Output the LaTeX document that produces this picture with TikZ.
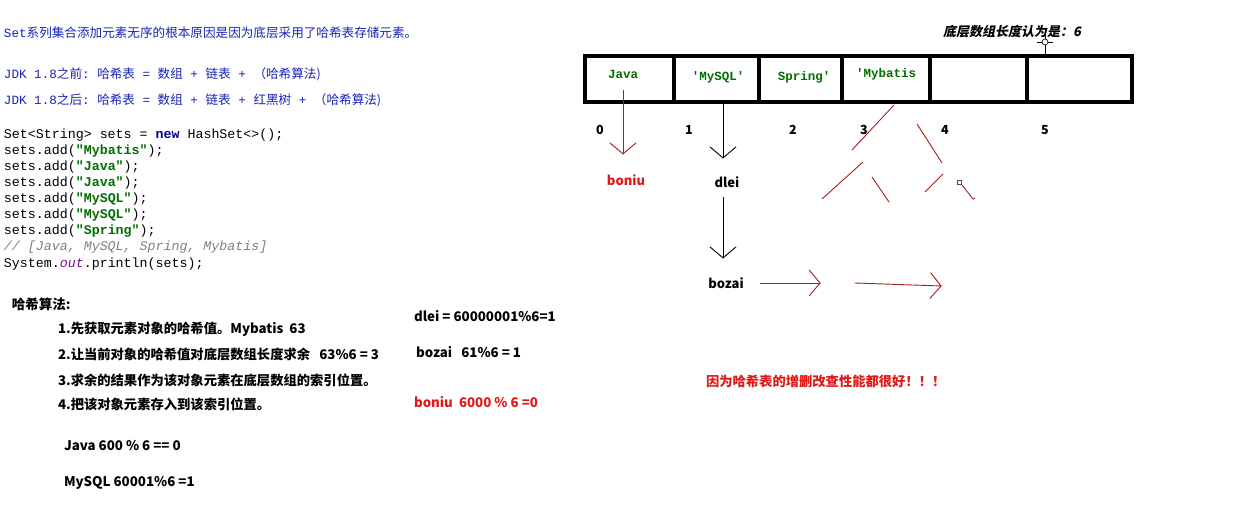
\documentclass[tikz,border=0pt]{standalone}
\usepackage{fontspec}
\setmonofont{Liberation Mono}
\newfontfamily\cjk{Noto Sans CJK SC}
\newfontfamily\cjkslant[FakeSlant=0.2]{Noto Sans CJK SC}
\usetikzlibrary{arrows.meta,positioning}

\definecolor{noteblue}{RGB}{25,35,185}
\definecolor{codegreen}{RGB}{0,110,0}
\definecolor{codenavy}{RGB}{0,0,140}
\definecolor{codepurple}{RGB}{110,20,130}
\definecolor{codegray}{RGB}{128,128,128}
\definecolor{penred}{RGB}{165,30,30}
\definecolor{hotred}{RGB}{225,25,25}

\newcommand\zh[1]{{\cjk #1}}
\newcommand\kw[1]{{\bfseries\color{codenavy}#1}}
\newcommand\str[1]{{\bfseries\color{codegreen}"#1"}}

\begin{document}
\begin{tikzpicture}[x=1pt,y=-1pt,
  every node/.style={inner sep=0pt,outer sep=0pt},
  blueline/.style={anchor=west,text=noteblue,font=\ttfamily\fontsize{12.6}{15}\selectfont},
  codeline/.style={anchor=west,font=\ttfamily\fontsize{13.3}{16}\selectfont},
  stepline/.style={anchor=west,font=\cjk\bfseries\fontsize{13.3}{16}\selectfont},
  cellword/.style={text=codegreen,font=\ttfamily\bfseries\fontsize{12.5}{14}\selectfont},
  idx/.style={font=\cjk\bfseries\fontsize{12.5}{14}\selectfont},
  chainword/.style={font=\cjk\bfseries\fontsize{13}{15}\selectfont},
  inkarrow/.style={line width=.9pt,-{Straight Barb[length=11pt,width=26pt]}},
  penarrow/.style={inkarrow,draw=penred},
  penline/.style={penred,line width=.9pt}]
\useasboundingbox[fill=white] (0,0) rectangle (1237,505);

% notes, top left
\node[blueline,font=\ttfamily\fontsize{12.6}{15}\selectfont] (intro) at (4,33) {Set\zh{系列集合添加元素无序的根本原因是因为底层采用了哈希表存储元素。}};
\node[blueline] (before) at (4,74) {JDK 1.8\zh{之前}: \zh{哈希表} = \zh{数组} + \zh{链表} + \zh{（哈希算法)}};
\node[blueline] (after) at (4,100) {JDK 1.8\zh{之后}: \zh{哈希表} = \zh{数组} + \zh{链表} + \zh{红黑树} + \zh{（哈希算法)}};

% code
\node[codeline] (c1) at (4,135) {Set<String> sets = \kw{new} HashSet<>();};
\node[codeline] (c2) at (4,151) {sets.add(\str{Mybatis});};
\node[codeline] (c3) at (4,167) {sets.add(\str{Java});};
\node[codeline] (c4) at (4,183) {sets.add(\str{Java});};
\node[codeline] (c5) at (4,199) {sets.add(\str{MySQL});};
\node[codeline] (c6) at (4,215) {sets.add(\str{MySQL});};
\node[codeline] (c7) at (4,231) {sets.add(\str{Spring});};
\node[codeline] (c8) at (4,247) {{\color{codegray}\itshape // [Java, MySQL, Spring, Mybatis]}};
\node[codeline] (c9) at (4,264) {System.{\color{codepurple}\itshape out}.println(sets);};

% hash steps
\node[anchor=west,font=\cjk\bfseries\fontsize{13.5}{16}\selectfont] (algo) at (12,304) {哈希算法:};
\node[stepline] (s1) at (58,329) {1.先获取元素对象的哈希值。Mybatis\ \ 63};
\node[stepline] (s2) at (58,354) {2.让当前对象的哈希值对底层数组长度求余\ \ \ 63\%6 = 3};
\node[stepline] (s3) at (58,380) {3.求余的结果作为该对象元素在底层数组的索引位置。};
\node[stepline] (s4) at (58,404) {4.把该对象元素存入到该索引位置。};
\node[stepline] (ex1) at (64,446) {Java 600 \% 6 == 0};
\node[stepline] (ex2) at (64,483) {MySQL 60001\%6 =1};
\node[stepline] (calc1) at (414,316) {dlei = 60000001\%6=1};
\node[stepline] (calc2) at (416,352) {bozai\ \ \ 61\%6 = 1};
\node[stepline,text=hotred] (calc3) at (414,402) {boniu\ \ 6000 \% 6 =0};
\node[stepline,text=hotred] (verdict) at (706,381) {因为哈希表的增删改查性能都很好！！！};

% array
\node[anchor=west,font=\cjkslant\bfseries\fontsize{13}{15}\selectfont] (lenlabel) at (943,32) {底层数组长度认为是：6};
\draw[line width=4pt] (585,56) rectangle (1132,102);
\foreach \x in {674,759,842,930,1027}
  \draw[line width=4pt] (\x,56) -- (\x,102);
\node[cellword] (java) at (623,74) {Java};
\node[cellword] (mysql) at (718,77) {'MySQL'};
\node[cellword] (spring) at (804,77) {Spring'};
\node[cellword] (mybatis) at (886,74) {'Mybatis};
\foreach \n/\x in {0/600,1/689,2/793,3/864,4/945,5/1045}
  \node[idx] (i\n) at (\x,130) {\n};

% cursor
\draw[line width=.6pt] (1045,30) -- (1045,56) (1037,42) -- (1053,42);
\draw[line width=.6pt,fill=white] (1045,42) circle (3);

% chains
\node[chainword,text=hotred] (boniu) at (626,180) {boniu};
\node[chainword] (dlei) at (727,182) {dlei};
\node[chainword] (bozai) at (726,283) {bozai};
\draw[penarrow] ([yshift=-12pt]java.south) -- ([yshift=20pt]java.south |- boniu.north);
\draw[inkarrow] ([xshift=5pt,yshift=-18pt]mysql.south) -- ([xshift=5pt,yshift=18pt]mysql.south |- dlei.north);
\draw[inkarrow] ([xshift=-4pt,yshift=-10pt]dlei.south) -- ([xshift=-4pt,yshift=19pt]dlei.south |- bozai.north);
\draw[penarrow] ([xshift=16pt]bozai.east) -- ([xshift=77pt]bozai.east);
\draw[penarrow] ([xshift=111pt]bozai.east) -- ([xshift=198pt,yshift=-3pt]bozai.east);

% scribbles
\draw[penline] (894,105) -- (852,150);
\draw[penline] (863,162) -- (822,199);
\draw[penline] (872,177) -- (889,202);
\draw[penline] (917,124) -- (942,163);
\draw[penline] (943,174) -- (925,192);
\draw[penline] (962,185) -- (973,199) -- (975,198);
\draw[line width=.7pt,draw=black!70] (957,180) rectangle (961,184);
\end{tikzpicture}
\end{document}
